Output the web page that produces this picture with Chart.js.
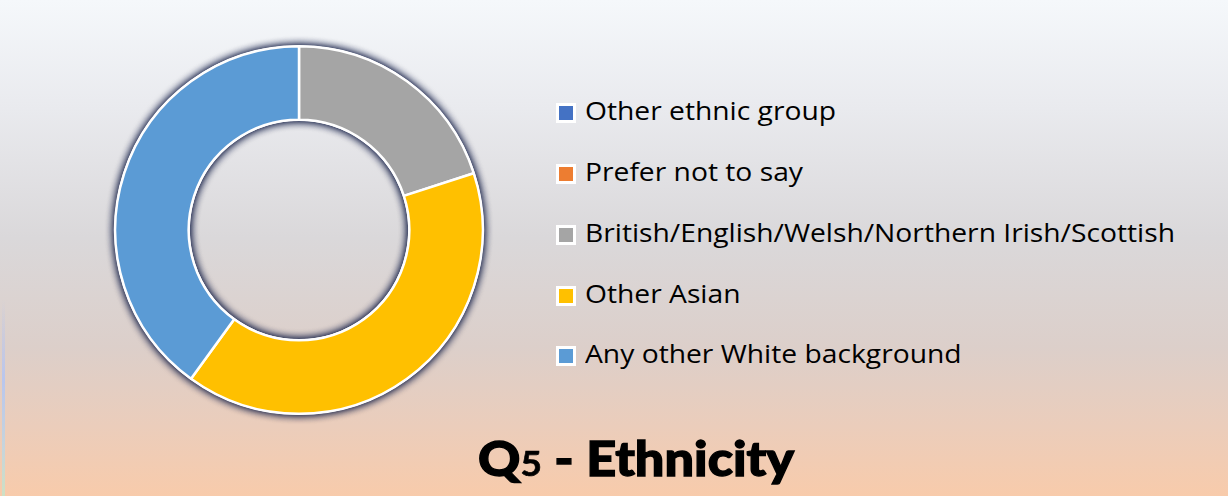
<!DOCTYPE html>
<html>
<head>
<meta charset="utf-8">
<script src="https://cdn.jsdelivr.net/npm/chart.js@4.4.0/dist/chart.umd.min.js"></script>
<style>
  html, body { margin: 0; padding: 0; }
  body { width: 1228px; height: 496px; overflow: hidden; position: relative;
    background: linear-gradient(to bottom, #f5f8fb 0%, #e9eaee 22%, #dad8da 48%, #dccfca 70%, #ebcdbb 86%, #f8cbab 100%); }
  #leftline { position: absolute; left: 2px; top: 300px; width: 3px; height: 196px;
    background: linear-gradient(to bottom, rgba(180,195,235,0) 0%, #b9c6ee 40%, #c6d4dc 75%, #cfe0c4 100%); }
  #chartBox { position: absolute; left: 99px; top: 30px; width: 400px; height: 400px; }
  #legend { position: absolute; left: 556px; top: 0; }
  .item { position: absolute; left: 0; white-space: nowrap; height: 30px; }
  .box { position: absolute; left: 0; top: 5px; width: 14px; height: 14px; border: 3px solid #ffffff; }
  .txt { position: absolute; left: 29px; top: -3px; font-family: "Open Sans", sans-serif; font-size: 25px;
    color: #000; line-height: 30px; transform-origin: 0 50%; }
  #title { position: absolute; left: 478px; top: 428px; font-family: "Lato", sans-serif; font-weight: 900;
    font-size: 48px; color: #000; white-space: nowrap; line-height: 60px; transform-origin: 0 50%;
    -webkit-text-stroke: 1.3px #000; }
  #title .sm { font-size: 34px; font-weight: 700; -webkit-text-stroke: 0.6px #000; }
</style>
</head>
<body>
<div id="leftline"></div>
<div id="chartBox"><canvas id="c"></canvas></div>
<div id="legend"></div>
<div id="title">Q<span class="sm">5</span> - Ethnicity</div>
<script>
const categories = ["Other ethnic group", "Prefer not to say", "British/English/Welsh/Northern Irish/Scottish", "Other Asian", "Any other White background"];
const responses = [0, 0, 1, 2, 2];
const sliceColors = ["#4472c4", "#ed7d31", "#a5a5a5", "#ffc000", "#5b9bd5"];
const chartTitle = "Q5 - Ethnicity";

const ringShadow = {
  id: 'ringShadow',
  beforeDatasetsDraw(chart) {
    const meta = chart.getDatasetMeta(0);
    const a = meta.data[0];
    if (!a) return;
    const ctx = chart.ctx;
    ctx.save();
    ctx.shadowColor = 'rgba(20,30,70,1)';
    ctx.shadowBlur = 8;
    ctx.fillStyle = '#ffffff';
    for (let k = 0; k < 2; k++) {
      ctx.beginPath();
      ctx.arc(a.x, a.y, a.outerRadius + 1, 0, Math.PI * 2);
      ctx.arc(a.x, a.y, Math.max(a.innerRadius - 1, 0), 0, Math.PI * 2, true);
      ctx.closePath();
      ctx.fill();
    }
    ctx.restore();
  }
};

new Chart(document.getElementById('c'), {
  type: 'doughnut',
  data: {
    labels: categories,
    datasets: [{
      data: responses,
      backgroundColor: sliceColors,
      borderColor: '#ffffff',
      borderWidth: 2.5
    }]
  },
  options: {
    responsive: true,
    maintainAspectRatio: false,
    animation: false,
    cutout: '60%',
    layout: { padding: 15 },
    plugins: { legend: { display: false }, title: { display: false }, tooltip: { enabled: false } }
  },
  plugins: [ringShadow]
});

// HTML legend built from the arrays
const legend = document.getElementById('legend');
const rowY = [98, 159, 220, 281, 341];
const spans = [];
categories.forEach((lab, i) => {
  const it = document.createElement('div');
  it.className = 'item';
  it.style.top = rowY[i] + 'px';
  const b = document.createElement('div');
  b.className = 'box';
  b.style.background = sliceColors[i];
  const t = document.createElement('span');
  t.className = 'txt';
  t.textContent = lab;
  it.appendChild(b); it.appendChild(t);
  legend.appendChild(it);
  spans.push(t);
});
const longest = spans[2].getBoundingClientRect().width;
const sx = 590 / longest;
spans.forEach(s => s.style.transform = 'scaleX(' + sx + ')');
const title = document.getElementById('title');
const tw = title.getBoundingClientRect().width;
title.style.transform = 'scaleX(' + (316 / tw) + ')';
</script>
</body>
</html>
